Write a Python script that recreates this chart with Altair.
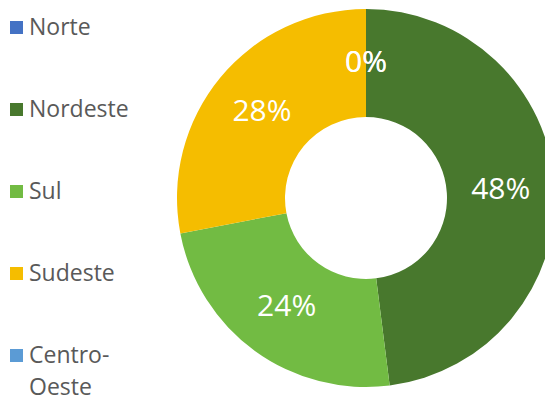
import altair as alt
import pandas as pd

FONT = "Open Sans"

regions = ["Norte", "Nordeste", "Sul", "Sudeste", "Centro-Oeste"]
shares = [0, 48, 24, 28, 0]
colors = ["#4472C4", "#48782D", "#72BB43", "#F5BD00", "#5B9BD5"]
order = [0, 1, 2, 3, 4]

df = pd.DataFrame({"regiao": regions, "valor": shares, "ordem": order})
df["rotulo"] = df["valor"].astype(str) + "%"

base = alt.Chart(df).encode(
    theta=alt.Theta("valor:Q", stack=True),
    order=alt.Order("ordem:Q"),
)

arc = base.mark_arc(outerRadius=189, innerRadius=81).encode(
    color=alt.Color(
        "regiao:N",
        scale=alt.Scale(domain=regions, range=colors),
        legend=alt.Legend(
            orient="none",
            legendX=-182,
            legendY=8,
            padding=0,
            title=None,
            symbolType="square",
            symbolSize=169,
            symbolStrokeWidth=0,
            labelFontSize=23,
            labelColor="#595959",
            labelFont=FONT,
            rowPadding=58,
            labelOffset=1,
            labelExpr="datum.label == 'Centro-Oeste' ? ['Centro-', 'Oeste'] : datum.label",
        ),
    )
)

text = base.mark_text(radius=135, fontSize=30, color="white", font=FONT).encode(
    text="rotulo:N"
)

chart = (
    (arc + text)
    .properties(
        width=358,
        height=380,
        padding={"left": 179, "top": 0, "right": 0, "bottom": 12},
        autosize="none",
    )
    .configure_view(stroke=None)
    .configure(style={"guide-label": {"lineHeight": 32}})
)

chart.save("out.html", embed_options={"renderer": "svg", "actions": False})
